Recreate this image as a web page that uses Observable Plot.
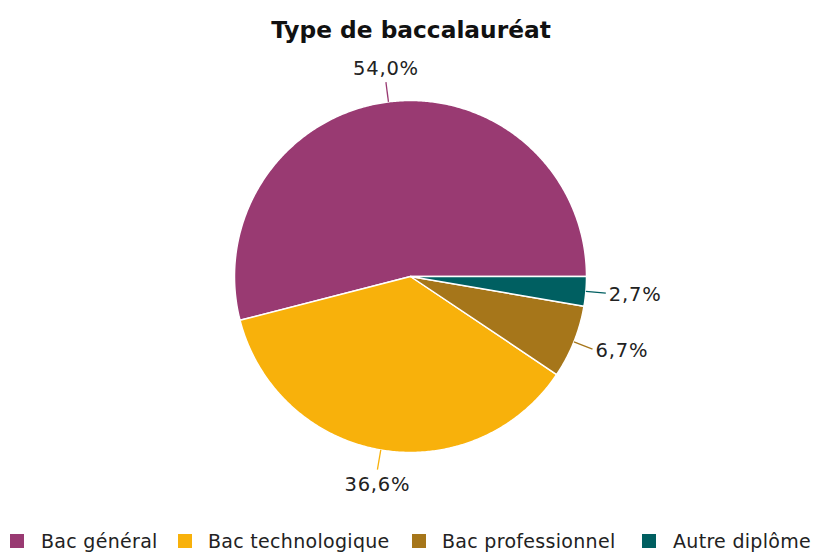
<!DOCTYPE html>
<html><head><meta charset="utf-8">
<script src="https://cdn.jsdelivr.net/npm/d3@7"></script>
<script src="https://cdn.jsdelivr.net/npm/@observablehq/plot@0.6"></script>
<style>
body{margin:0;background:#fff;font-family:"DejaVu Sans",sans-serif;width:815px;height:554px;overflow:hidden}
#title{height:60px;line-height:60px;text-align:center;font-weight:bold;font-size:23.3px;color:#111;padding-left:7px;box-sizing:border-box}
#legend{position:relative;height:30px;margin-top:4px;font-size:19px;letter-spacing:0.3px;color:#222;white-space:nowrap}
#legend .sw{position:absolute;top:8px;width:14px;height:14px}
#legend .tx{position:absolute;top:0;line-height:30px}
</style></head>
<body>
<div id="title">Type de baccalauréat</div>
<div id="chart"></div>
<div id="legend"></div>
<script>
const categories = ["Bac général", "Bac technologique", "Bac professionnel", "Autre diplôme"];
const values = [54.0, 36.6, 6.7, 2.7];
const labels = ["54,0%", "36,6%", "6,7%", "2,7%"];
const colors = ["#993a72", "#f8b10b", "#a6761a", "#005f61"];

const W = 815, H = 462, R = 176, cx = 410, cy = 216;
const total = d3.sum(values);
// angles counterclockwise from 3 o'clock
let acc = 0;
const slices = categories.map((c, i) => {
  const a0 = acc / total * 2 * Math.PI;
  acc += values[i];
  const a1 = acc / total * 2 * Math.PI;
  return {cat: c, i, a0, a1, mid: (a0 + a1) / 2, label: labels[i], color: colors[i]};
});
function polygon(s) {
  const pts = [{x: 0, y: 0}];
  const n = Math.max(4, Math.ceil((s.a1 - s.a0) / (Math.PI / 360)));
  for (let k = 0; k <= n; k++) {
    const a = s.a0 + (s.a1 - s.a0) * k / n;
    pts.push({x: R * Math.cos(a), y: R * Math.sin(a)});
  }
  return pts;
}
const leaders = slices.map(s => ({
  x1: R * Math.cos(s.mid), y1: R * Math.sin(s.mid),
  x2: (R + 20) * Math.cos(s.mid), y2: (R + 20) * Math.sin(s.mid),
  color: s.color, label: s.label,
  grp: Math.cos(s.mid) > 0.5 ? "start" : Math.cos(s.mid) < -0.5 ? "end" : (Math.sin(s.mid) > 0 ? "top" : "bottom")
}));

const marks = [];
slices.forEach(s => {
  marks.push(Plot.line(polygon(s), {x: "x", y: "y", curve: "linear-closed", fill: s.color, stroke: "white", strokeWidth: 1.5}));
});
marks.push(Plot.link(leaders, {x1: "x1", y1: "y1", x2: "x2", y2: "y2", stroke: d => d.color, strokeWidth: 1.3}));
const tf = {fontFamily: "DejaVu Sans", fontSize: 19.5, fill: "#222"};
marks.push(Plot.text(leaders.filter(d => d.grp === "start"), {x: "x2", y: "y2", text: "label", textAnchor: "start", dx: 3, dy: 2, ...tf}));
marks.push(Plot.text(leaders.filter(d => d.grp === "end"), {x: "x2", y: "y2", text: "label", textAnchor: "end", dx: -3, dy: 2, ...tf}));
marks.push(Plot.text(leaders.filter(d => d.grp === "top"), {x: "x2", y: "y2", text: "label", textAnchor: "middle", dy: -13, ...tf}));
marks.push(Plot.text(leaders.filter(d => d.grp === "bottom"), {x: "x2", y: "y2", text: "label", textAnchor: "middle", dy: 15, ...tf}));

const plot = Plot.plot({
  width: W, height: H,
  margin: 0,
  x: {domain: [-cx, W - cx], range: [0, W], axis: null},
  y: {domain: [-(H - cy), cy], range: [H, 0], axis: null},
  color: {type: "identity"},
  style: {background: "white", overflow: "visible", letterSpacing: "0.8px"},
  marks
});
document.getElementById("chart").appendChild(plot);

const lg = document.getElementById("legend");
const legendSwatchX = [10, 178, 412, 642];
const legendTextX = [41, 208, 442, 673];
categories.forEach((c, i) => {
  const sw = document.createElement("div"); sw.className = "sw";
  sw.style.background = colors[i]; sw.style.left = legendSwatchX[i] + "px";
  const tx = document.createElement("span"); tx.className = "tx";
  tx.textContent = c; tx.style.left = legendTextX[i] + "px";
  lg.appendChild(sw); lg.appendChild(tx);
});
</script>
</body></html>
